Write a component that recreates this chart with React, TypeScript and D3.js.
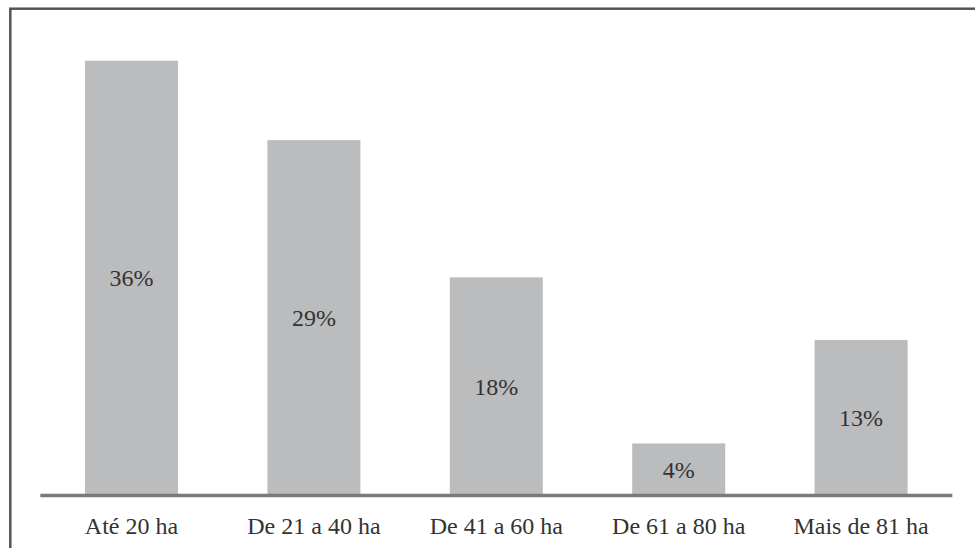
import React from "react";
import * as d3 from "d3";

const categories = ["Até 20 ha", "De 21 a 40 ha", "De 41 a 60 ha", "De 61 a 80 ha", "Mais de 81 ha"];
const values = [36, 29.4, 18, 4.2, 12.8];
const valueLabels = ["36%", "29%", "18%", "4%", "13%"];

const W = 975;
const H = 548;

export default function App() {
  const x = d3
    .scaleBand<string>()
    .domain(categories)
    .range([40.3, 952.3])
    .paddingInner(0.49)
    .paddingOuter(0.245);
  const y = d3.scaleLinear().domain([0, 36]).range([494, 60.7]);
  const font = "Liberation Serif, Tinos, Times New Roman, Times, DejaVu Serif, serif";

  return (
    <svg
      width={W}
      height={H}
      style={{ position: "absolute", left: 0, top: 0, display: "block", background: "#fff" }}
    >
      <rect x={10.3} y={8.7} width={W} height={H} fill="none" stroke="#555" strokeWidth={2.5} />
      {categories.map((c, i) => (
        <g key={c}>
          <rect
            x={x(c)}
            y={y(values[i])}
            width={x.bandwidth()}
            height={y(0) - y(values[i])}
            fill="#bbbcbe"
          />
          <text
            x={(x(c) as number) + x.bandwidth() / 2}
            y={(y(values[i]) + y(0)) / 2 + 9}
            textAnchor="middle"
            style={{ fontFamily: font, fontSize: "24px" }}
            fill="#333"
          >
            {valueLabels[i]}
          </text>
          <text
            x={(x(c) as number) + x.bandwidth() / 2}
            y={534}
            textAnchor="middle"
            style={{ fontFamily: font, fontSize: "24px" }}
            fill="#333"
          >
            {c}
          </text>
        </g>
      ))}
      <line
        x1={x.range()[0]}
        x2={x.range()[1]}
        y1={495.5}
        y2={495.5}
        stroke="#7a7a7a"
        strokeWidth={3.5}
      />
    </svg>
  );
}
